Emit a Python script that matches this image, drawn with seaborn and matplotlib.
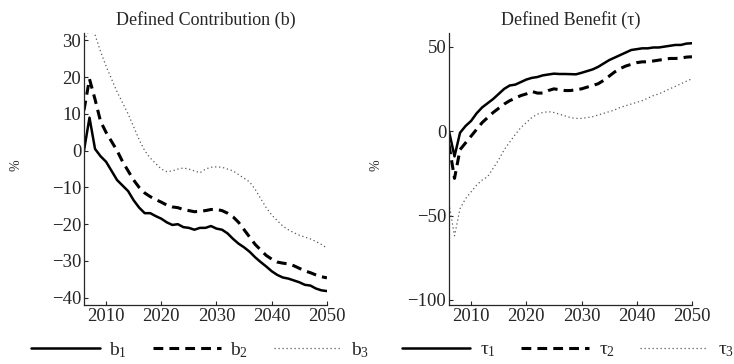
import numpy as np
import pandas as pd
import matplotlib
matplotlib.use("Agg")
import matplotlib.pyplot as plt
import seaborn as sns

years = list(range(2006, 2051))

b1 = [0, 9, 0.5, -1.5, -3, -5.5, -8, -9.5, -11, -13.5, -15.5, -17, -17, -17.8, -18.5,
      -19.5, -20.2, -20, -20.8, -21, -21.5, -21, -21, -20.5, -21.2, -21.5, -22.5, -24,
      -25.3, -26.3, -27.5, -29, -30.3, -31.5, -32.8, -33.8, -34.5, -34.8, -35.3, -35.8,
      -36.5, -36.7, -37.5, -38, -38.2]
b2 = [11, 19.5, 14, 8, 5, 2.5, 0, -3, -5.5, -8, -10, -11.5, -12.5, -13.3, -14, -14.8,
      -15.3, -15.5, -16, -16.3, -16.6, -16.5, -16.3, -16, -16, -16.3, -17, -18, -19.5,
      -21.5, -23.5, -25.5, -27, -28.5, -29.5, -30.3, -30.6, -30.8, -31.3, -32, -32.7,
      -33.2, -33.8, -34.3, -34.6]
b3 = [30, 33, 31.5, 27, 23, 19.5, 16, 13, 10, 6.5, 3, 0, -2, -3.5, -5, -5.7, -5.5, -5,
      -4.7, -5, -5.5, -6, -5, -4.5, -4.4, -4.5, -5, -5.5, -6.5, -7.5, -8.5, -10.5, -13,
      -15.5, -17.5, -19, -20.5, -21.5, -22.3, -23, -23.5, -24, -24.7, -25.5, -26.5]

t1 = [0, -15, -1, 3, 6, 10.5, 14, 16.5, 19, 22, 25, 27, 27.5, 29, 30.5, 31.5, 32, 33,
      33.5, 34, 33.8, 33.8, 33.7, 33.6, 34.5, 35.5, 36.5, 38, 40, 42, 43.5, 45, 46.5, 48,
      48.5, 49, 49, 49.5, 49.5, 50, 50.5, 51, 51, 51.8, 52]
t2 = [-8, -28, -11, -7, -3, 1, 5, 8, 11, 13.5, 16, 18, 19.5, 21, 22, 23.5, 22.5, 22.5,
      24, 25, 24.5, 24, 24, 24.5, 25, 26, 27, 28, 30, 32.5, 35, 37, 38.5, 39.5, 40.5, 41,
      41, 41.5, 42, 42.5, 43, 43, 43.2, 43.8, 44]
t3 = [-43, -62, -46, -40, -36, -32, -29, -27, -22, -17, -11, -6.5, -2, 2, 5, 8, 10, 11,
      11.5, 11, 10, 9, 8, 7.5, 7.5, 8, 8.5, 9.5, 10.5, 11.5, 12.5, 14, 15, 16, 17, 18,
      19.5, 21, 22, 23.5, 25, 26.5, 28, 29.5, 31]

left_labels = [r'$\mathrm{b}_{1}$', r'$\mathrm{b}_{2}$', r'$\mathrm{b}_{3}$']
right_labels = [r'$\mathrm{τ}_{1}$', r'$\mathrm{τ}_{2}$', r'$\mathrm{τ}_{3}$']
titles = ["Defined Contribution (b)", "Defined Benefit (τ)"]
xticks = [2010, 2020, 2030, 2040, 2050]
left_yticks = [30, 20, 10, 0, -10, -20, -30, -40]
right_yticks = [50, 0, -50, -100]

sns.set_style("ticks")
plt.rcParams['font.family'] = ['Liberation Serif', 'DejaVu Serif']
plt.rcParams['mathtext.fontset'] = 'custom'
plt.rcParams['mathtext.rm'] = 'Liberation Serif'
plt.rcParams['mathtext.it'] = 'Liberation Serif'
plt.rcParams['xtick.direction'] = 'in'
plt.rcParams['ytick.direction'] = 'in'

fig = plt.figure(figsize=(7.34, 3.64), dpi=100)
ax1 = fig.add_axes([0.1144, 0.162, 0.331, 0.747])
ax2 = fig.add_axes([0.6117, 0.162, 0.331, 0.747])

styles = [
    dict(color='black', linewidth=1.8, linestyle='-'),
    dict(color='black', linewidth=2.2, linestyle=(0, (3.2, 2.0))),
    dict(color='0.35', linewidth=0.9, linestyle=(0, (1, 2.2))),
]

def draw(ax, series, labels, yticks, ylim, title, legx, labx):
    for s, lab, st in zip(series, labels, styles):
        df = pd.DataFrame({'year': years, 'val': s})
        sns.lineplot(data=df, x='year', y='val', ax=ax, label=lab, **st)
    ax.set_xlim(2006, 2050)
    ax.set_ylim(*ylim)
    ax.set_xticks(xticks)
    ax.set_yticks(yticks)
    ax.set_yticklabels([str(v).replace('-', '\u2212') for v in yticks])
    ax.tick_params(labelsize=13.5, length=3, width=0.8, pad=2)
    ax.set_xlabel('')
    ax.set_ylabel('%', fontsize=10)
    ax.yaxis.set_label_coords(labx, 0.515)
    ax.set_title(title, fontsize=13, pad=6)
    for sp in ['top', 'right']:
        ax.spines[sp].set_visible(False)
    for sp in ['left', 'bottom']:
        ax.spines[sp].set_linewidth(0.9)
    ax.legend(loc='center', bbox_to_anchor=(legx, -0.165), ncol=3,
              frameon=False, fontsize=14, handlelength=3.5, columnspacing=1.3,
              handletextpad=0.5, borderaxespad=0)

draw(ax1, [b1, b2, b3], left_labels, left_yticks, (-42, 32), titles[0], 0.48, -0.255)
draw(ax2, [t1, t2, t3], right_labels, right_yticks, (-103, 58), titles[1], 0.49, -0.275)

fig.savefig('out.png', dpi=100)
